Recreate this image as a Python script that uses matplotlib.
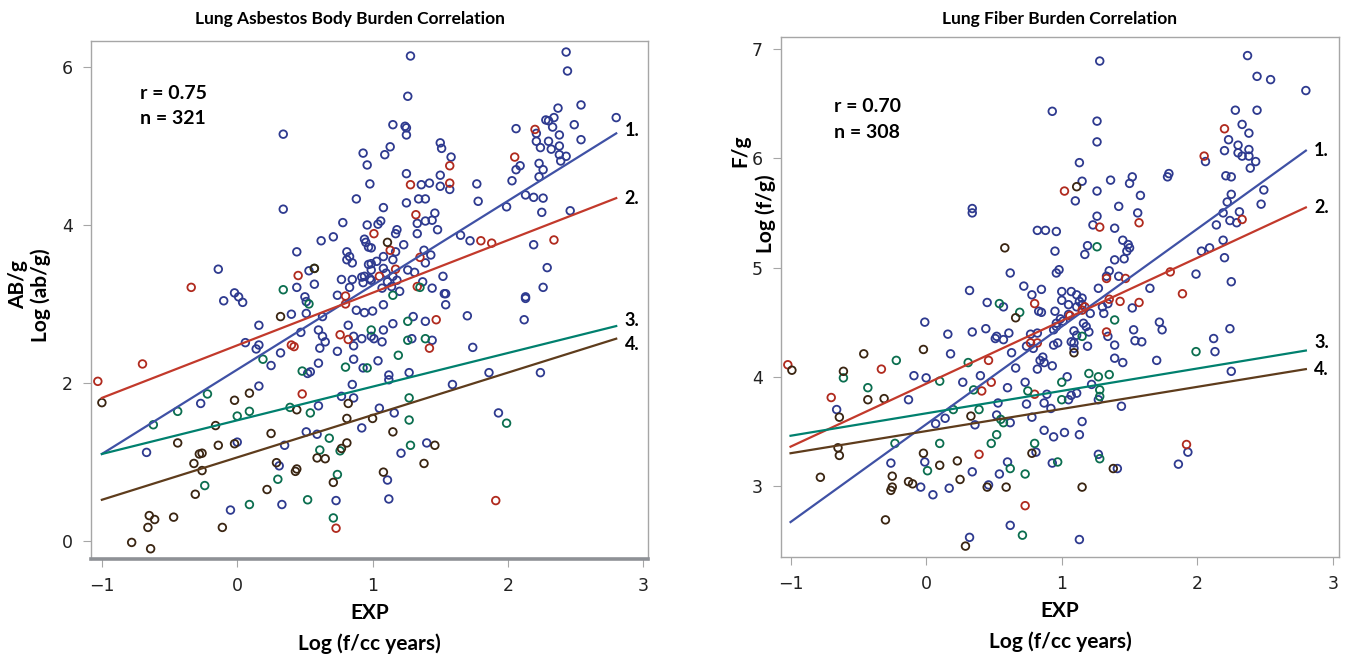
import numpy as np
import matplotlib
matplotlib.use('Agg')
import matplotlib.pyplot as plt
from matplotlib import font_manager

# ── Data ─────────────────────────────────────────────────────────────────────
# Left panel: lung asbestos bodies, x = log EXP, y = log(ab/g)
ab_blue = [(0.34,5.15),(0.34,4.2),(-0.14,3.44),(0.93,4.91),(0.96,4.76),(0.98,4.52),(0.88,4.33),(0.78,4.03),
    (0.71,3.85),(0.62,3.80),(0.96,4.0),(0.94,3.82),(0.95,3.78),(0.99,3.71),(0.97,3.72),(0.44,3.66),(0.53,3.42),
    (0.57,3.25),(0.44,3.21),(0.81,3.66),(0.83,3.60),(0.81,3.56),(0.85,3.52),(0.77,3.31),(0.85,3.31),(0.83,3.21),
    (0.92,3.34),(0.93,3.27),(0.99,3.30),(0.97,3.50),(0.99,3.43),(-0.10,3.04),(-0.02,3.14),(0.01,3.09),(0.04,3.02),
    (0.50,3.09),(0.74,3.11),(1.28,6.14),(1.26,5.63),(2.43,6.19),(2.44,5.95),(2.54,5.52),(2.80,5.36),(2.37,5.48),
    (2.28,5.33),(2.30,5.32),(2.34,5.36),(2.33,5.24),(2.49,5.27),(2.38,5.14),(2.54,5.08),(2.21,5.16),(2.21,5.06),
    (2.06,5.22),(2.24,4.98),(2.30,5.06),(2.32,4.96),(2.38,5.0),(2.38,4.89),(2.43,4.87),(2.39,4.81),(2.06,4.70),
    (2.09,4.75),(2.23,4.78),(2.26,4.70),(2.23,4.61),(2.03,4.56),(2.13,4.38),(2.19,4.35),(2.26,4.34),(2.25,4.16),
    (1.99,4.23),(2.46,4.18),(2.19,3.75),(2.29,3.46),(2.26,3.21),(2.13,3.09),(1.77,4.52),(1.78,4.30),(1.65,3.87),
    (1.72,3.80),(1.09,4.89),(1.13,4.99),(1.15,5.27),(1.24,5.25),(1.25,5.23),(1.25,5.14),(1.50,5.04),(1.51,4.97),
    (1.58,4.86),(1.50,4.63),(1.50,4.49),(1.57,4.45),(1.42,4.53),(1.36,4.51),(1.25,4.65),(1.25,4.28),(1.34,4.33),
    (1.39,4.33),(1.08,4.22),(1.06,4.05),(1.04,4.01),(1.33,4.02),(1.33,3.89),(1.46,4.15),(1.44,4.06),(1.48,3.94),
    (1.39,4.05),(1.18,3.94),(1.17,3.89),(1.23,3.75),(1.17,3.66),(1.15,3.56),(1.08,3.60),(1.03,3.54),(1.38,3.68),
    (1.43,3.62),(1.39,3.52),(1.26,3.43),(1.31,3.40),(0.99,3.51),(0.98,3.32),(0.94,3.35),(1.10,3.39),(1.08,3.45),
    (1.11,3.28),(1.15,3.35),(1.18,3.30),(1.07,3.20),(1.14,3.22),(1.20,3.16),(1.37,3.28),(1.44,3.20),(1.52,3.35),
    (1.53,3.13),(-0.67,1.12),(-0.27,1.74),(0.0,1.25),(-0.05,0.39),(0.33,0.46),(0.31,0.95),(0.35,1.21),(0.51,1.38),
    (0.59,1.35),(0.73,0.51),(0.92,1.43),(0.77,1.83),(0.86,1.81),(0.85,1.98),(0.60,1.71),(0.16,1.96),(0.25,2.22),
    (0.32,2.38),(0.06,2.51),(0.14,2.43),(0.16,2.48),(0.16,2.73),(0.40,2.87),(0.47,2.64),(0.51,2.88),(0.51,3.03),
    (0.63,2.84),(0.60,2.67),(0.63,2.59),(0.61,2.44),(0.65,2.52),(0.74,2.40),(0.86,2.59),(0.92,2.56),(0.86,2.47),
    (0.86,2.30),(0.82,2.73),(0.88,2.92),(0.94,2.89),(1.0,2.91),(0.93,2.19),(0.52,2.12),(0.54,2.14),(0.60,2.25),
    (0.99,2.59),(2.13,3.07),(2.12,2.80),(1.70,2.85),(1.74,2.45),(1.86,2.13),(1.59,1.98),(2.24,2.13),(1.39,2.78),
    (1.44,2.54),(1.54,2.99),(1.54,3.13),(1.30,2.84),(1.29,2.56),(1.15,2.75),(1.08,2.67),(1.07,2.52),(1.01,2.56),
    (1.08,2.99),(1.04,2.28),(1.12,2.10),(1.12,2.04),(1.27,2.13),(1.05,1.68),(1.16,1.62),(1.93,1.62),(1.40,1.24),
    (1.21,1.11),(1.11,0.77),(1.12,0.53)]
ab_red = [(-0.34,3.21),(1.01,3.89),(0.45,3.36),(2.20,5.21),(2.05,4.86),(2.34,3.81),(1.80,3.80),(1.88,3.77),
    (1.57,4.75),(1.57,4.53),(1.28,4.51),(1.32,4.13),(1.13,3.68),(1.35,3.59),(1.17,3.44),(1.05,3.35),(1.33,3.22),
    (-1.03,2.02),(-0.70,2.24),(0.40,2.48),(0.42,2.46),(0.48,1.86),(0.76,2.61),(0.82,2.55),(0.73,0.16),(0.80,3.0),
    (0.80,3.10),(1.47,2.80),(1.42,2.44),(1.91,0.51)]
ab_green = [(0.57,3.45),(0.34,3.18),(1.15,3.11),(1.35,3.21),(-0.62,1.47),(-0.44,1.64),(-0.22,1.86),(0.0,1.58),
    (0.09,1.64),(-0.24,0.70),(0.09,0.46),(0.30,0.78),(0.52,0.52),(0.68,1.30),(0.61,1.15),(0.76,1.14),(0.74,0.84),
    (0.71,0.29),(0.54,1.62),(0.39,1.69),(0.19,2.30),(0.53,3.0),(0.80,2.20),(0.99,2.67),(0.96,2.19),(0.48,2.15),
    (1.19,2.35),(1.27,1.81),(1.27,1.53),(1.99,1.49),(1.28,1.21),(1.39,2.56),(1.26,2.78),(1.26,2.54)]
ab_brown = [(0.57,3.45),(1.11,3.78),(-1.0,1.75),(-0.44,1.24),(-0.02,1.78),(0.09,1.87),(-0.16,1.46),(-0.14,1.21),
    (-0.02,1.23),(-0.26,1.11),(-0.28,1.10),(-0.32,0.98),(-0.26,0.89),(-0.31,0.59),(-0.65,0.32),(-0.61,0.27),
    (-0.66,0.17),(-0.47,0.30),(-0.78,-0.02),(-0.64,-0.10),(-0.11,0.17),(0.22,0.65),(0.29,0.99),(0.43,0.88),
    (0.44,0.91),(0.25,1.36),(0.59,1.05),(0.65,1.04),(0.77,1.17),(0.81,1.24),(0.71,0.74),(0.81,1.55),(0.82,1.74),
    (1.0,1.55),(0.44,1.66),(0.32,2.84),(1.46,1.21),(1.38,0.98),(1.08,0.87),(1.15,1.38)]

# Right panel: lung fibers, x = log EXP, y = log(f/g)
fb_blue = [(0.93,6.43),(0.34,5.54),(0.34,5.50),(0.82,5.34),(0.88,5.34),(0.96,5.33),(0.95,5.15),(0.62,4.95),
    (0.96,4.95),(0.98,4.98),(0.32,4.79),(0.72,4.83),(0.78,4.75),(0.85,4.80),(1.28,6.89),(2.37,6.94),(2.44,6.75),
    (2.54,6.72),(2.80,6.62),(1.26,6.34),(1.26,6.15),(2.28,6.44),(2.44,6.44),(2.33,6.31),(2.38,6.23),(2.23,6.17),
    (2.20,6.07),(2.30,6.12),(2.30,6.05),(2.33,6.02),(2.38,6.08),(2.38,6.02),(2.43,5.97),(2.39,5.91),(2.06,5.97),
    (2.21,5.84),(2.25,5.83),(2.25,5.67),(2.22,5.60),(2.49,5.71),(2.47,5.58),(2.19,5.50),(2.24,5.43),(2.29,5.41),
    (2.31,5.51),(2.14,5.39),(2.19,5.25),(2.20,5.09),(2.25,4.87),(2.03,5.15),(2.09,5.18),(1.99,4.94),(1.65,4.81),
    (1.78,5.83),(1.79,5.86),(1.58,5.66),(1.56,5.50),(1.50,5.77),(1.52,5.83),(1.42,5.56),(1.36,5.80),(1.26,5.70),
    (1.13,5.96),(1.15,5.79),(1.10,5.61),(1.26,5.47),(1.23,5.39),(1.39,5.36),(1.19,5.20),(1.17,5.12),(1.45,5.25),
    (1.49,5.21),(1.50,5.18),(1.48,5.15),(1.46,5.08),(1.39,5.07),(1.42,4.92),(1.35,4.97),(1.33,4.92),(1.27,4.81),
    (1.0,4.78),(1.07,4.78),(1.15,4.72),(1.11,4.75),(0.83,4.60),(0.85,4.59),(0.57,4.64),(0.45,4.68),(1.0,4.70),
    (1.05,4.66),(1.13,4.69),(1.15,4.66),(1.11,4.64),(1.21,4.58),(1.31,4.58),(1.30,4.64),(1.34,4.67),(1.52,4.63),
    (0.95,4.60),(1.01,4.51),(1.05,4.57),(0.96,4.49),(0.99,4.53),(1.09,4.42),(1.11,4.38),(1.16,4.49),(1.20,4.41),
    (1.18,4.46),(1.34,4.37),(1.39,4.29),(1.39,4.17),(1.45,4.13),(1.53,4.43),(1.54,4.33),(1.59,4.32),(1.70,4.15),
    (1.72,4.50),(1.74,4.43),(1.09,4.26),(1.09,4.31),(1.19,4.28),(0.84,4.15),(0.86,4.18),(0.87,4.13),(0.82,4.07),
    (0.93,4.10),(0.77,4.39),(0.82,4.40),(0.79,4.26),(0.74,4.28),(0.94,4.43),(0.96,4.46),(0.97,4.31),(0.94,4.29),
    (0.61,4.40),(0.57,4.34),(0.52,4.37),(0.63,4.22),(0.66,4.08),(0.60,3.90),(0.73,3.95),(0.74,3.75),(0.44,4.44),
    (0.51,4.35),(0.34,4.41),(0.16,4.39),(0.18,4.21),(-0.01,4.50),(0.40,4.01),(0.27,3.95),(0.0,3.99),(0.89,3.84),
    (0.87,3.76),(0.92,3.71),(0.53,3.76),(0.14,3.62),(0.07,3.57),(0.36,3.56),(0.52,3.65),(0.78,3.63),(0.87,3.51),
    (0.94,3.45),(1.02,3.49),(1.13,3.47),(1.15,3.59),(1.04,4.0),(1.07,3.83),(1.11,3.85),(1.05,3.79),(1.22,3.93),
    (1.44,3.73),(-0.09,4.01),(-0.13,3.79),(-0.66,3.70),(0.62,3.58),(0.81,3.31),(0.93,3.21),(0.60,3.22),(0.54,3.11),
    (0.46,3.01),(0.34,3.13),(-0.01,3.22),(-0.26,3.21),(-0.04,2.99),(0.05,2.92),(0.17,2.98),(0.62,2.64),(0.32,2.53),
    (1.07,4.32),(2.12,4.35),(2.13,4.23),(2.24,4.44),(2.25,4.05),(1.27,3.79),(1.27,3.29),(1.41,3.16),(1.13,2.51),
    (1.86,3.20),(1.93,3.31)]
fb_red = [(1.02,5.70),(2.20,6.27),(2.05,6.02),(2.33,5.44),(1.57,5.41),(1.28,5.37),(1.33,4.90),(1.47,4.90),
    (1.89,4.76),(1.80,4.96),(0.80,4.67),(1.17,4.64),(1.15,4.61),(1.35,4.71),(1.43,4.69),(1.57,4.68),(1.06,4.56),
    (1.33,4.41),(0.77,4.31),(0.82,4.31),(0.46,4.15),(0.48,3.95),(0.41,3.87),(0.80,3.84),(-1.02,4.11),(-0.33,4.07),
    (-0.70,3.81),(0.39,3.29),(0.73,2.82),(1.92,3.38)]
fb_green = [(1.26,5.19),(0.54,4.67),(0.69,4.59),(1.15,4.37),(1.39,4.52),(0.31,4.13),(0.10,3.96),(0.35,3.88),
    (0.75,3.87),(0.39,3.70),(0.20,3.70),(0.55,3.61),(0.57,3.58),(0.52,3.47),(0.48,3.39),(0.80,3.39),(0.10,3.39),
    (1.0,3.95),(1.0,3.79),(1.20,4.03),(1.27,4.0),(1.35,4.02),(1.28,3.88),(1.28,3.82),(-0.22,4.15),(-0.61,3.99),
    (-0.43,3.90),(-0.23,3.39),(0.97,3.22),(0.62,3.16),(0.73,3.11),(0.01,3.14),(0.71,2.55),(1.99,4.23),(1.28,3.25)]
fb_brown = [(0.58,5.18),(1.11,5.74),(0.66,4.54),(-0.02,4.25),(0.33,3.64),(1.09,4.22),(-0.99,4.06),(-0.46,4.21),
    (-0.61,4.05),(-0.43,3.79),(-0.31,3.80),(-0.64,3.63),(0.78,3.30),(0.45,2.99),(0.59,2.99),(0.23,3.23),(0.25,3.06),
    (0.10,3.19),(-0.02,3.30),(-0.25,3.09),(-0.25,2.99),(-0.26,2.96),(-0.13,3.04),(-0.10,3.02),(-0.65,3.35),
    (-0.64,3.28),(-0.78,3.08),(-0.30,2.69),(0.29,2.45),(1.38,3.16),(1.15,2.99)]

# regression lines 1..4: value at x = -1 and at x = 2.8
fit_x = [-1.0, 2.8]
ab_fit = [(1.10, 5.16), (1.81, 4.34), (1.10, 2.72), (0.52, 2.56)]
fb_fit = [(2.67, 6.07), (3.36, 5.55), (3.46, 4.24), (3.30, 4.07)]
line_labels = ['1.', '2.', '3.', '4.']

# ── Style ────────────────────────────────────────────────────────────────────
names = {f.name for f in font_manager.fontManager.ttflist}
BOLD_FONT = 'Lato' if 'Lato' in names else 'DejaVu Sans'
TICK_FONT = 'Liberation Sans Narrow' if 'Liberation Sans Narrow' in names else 'DejaVu Sans'

PT_COLORS   = ['#2E3A8F', '#B02A1E', '#0B6E4F', '#3A2512']
LINE_COLORS = ['#3F51A5', '#C2392B', '#00806E', '#5E3C1C']
FRAME = '#A6A6A6'

fig = plt.figure(figsize=(13.45, 6.61), dpi=100)

panels = [
    dict(pos=[0.0677, 0.1543, 0.4141, 0.7837], xlim=(-1.08, 3.035), ylim=(-0.23, 6.33),
         yticks=[0, 2, 4, 6], pts=[ab_blue, ab_red, ab_green, ab_brown], fit=ab_fit,
         title='Lung Asbestos Body Burden Correlation', title_x=0.260,
         # (text, x, y) in figure fraction for the two y-label lines
         ylab=[('AB/g', 0.0135, 0.570), ('Log (ab/g)', 0.0300, 0.553)],
         label_nudge=[2, 0, 4, -4],
         stats='r = 0.75\nn = 321', stats_xy=(0.088, 0.915), thick_bottom=True),
    dict(pos=[0.5807, 0.1573, 0.4149, 0.7867], xlim=(-1.07, 3.045), ylim=(2.35, 7.11),
         yticks=[3, 4, 5, 6, 7], pts=[fb_blue, fb_red, fb_green, fb_brown], fit=fb_fit,
         title='Lung Fiber Burden Correlation', title_x=0.788,
         ylab=[('F/g', 0.5505, 0.772), ('Log (f/g)', 0.5690, 0.677)],
         label_nudge=[0, 0, 6, 0],
         stats='r = 0.70\nn = 308', stats_xy=(0.095, 0.882), thick_bottom=False),
]

for p in panels:
    ax = fig.add_axes(p['pos'])
    # scatter groups (blue drawn first, as in the original)
    for pts, col in zip(p['pts'], PT_COLORS):
        arr = np.array(pts)
        ax.scatter(arr[:, 0], arr[:, 1], s=30, facecolors='none', edgecolors=col,
                   linewidths=1.3, zorder=3)
    # regression lines with their numbers
    for (y0, y1), col, lab, dy in zip(p['fit'], LINE_COLORS, line_labels, p['label_nudge']):
        ax.plot(fit_x, [y0, y1], color=col, lw=1.6, zorder=4)
        ax.annotate(lab, xy=(fit_x[1], y1), xytext=(6, dy), textcoords='offset points',
                    fontsize=13, fontweight='bold', family=BOLD_FONT,
                    va='center', ha='left', zorder=5)

    ax.set_xlim(*p['xlim'])
    ax.set_ylim(*p['ylim'])
    ax.set_xticks([-1, 0, 1, 2, 3])
    ax.set_yticks(p['yticks'])
    ax.tick_params(direction='out', length=6, width=0.8, color=FRAME, pad=7,
                   labelsize=12.5, labelcolor='#222222')
    for lab in ax.get_xticklabels() + ax.get_yticklabels():
        lab.set_family(TICK_FONT)
    for sp in ax.spines.values():
        sp.set_color(FRAME)
        sp.set_linewidth(1.0)
    if p['thick_bottom']:
        ax.spines['bottom'].set_linewidth(2.6)
        ax.spines['bottom'].set_color('#8E9196')

    fig.text(p['title_x'], 0.972, p['title'], fontsize=12.5, fontweight='bold',
             family=BOLD_FONT, ha='center', va='center')
    for txt, tx, ty in p['ylab']:
        fig.text(tx, ty, txt, rotation=90, fontsize=15, fontweight='bold',
                 family=BOLD_FONT, ha='center', va='center')
    ax.set_xlabel('EXP\nLog (f/cc years)', fontsize=15, fontweight='bold',
                  family=BOLD_FONT, linespacing=1.6)
    ax.xaxis.set_label_coords(0.5, -0.085)
    ax.xaxis.label.set_va('top')
    ax.text(p['stats_xy'][0], p['stats_xy'][1], p['stats'], transform=ax.transAxes,
            fontsize=14, fontweight='bold', family=BOLD_FONT, va='top', ha='left',
            linespacing=1.6)

fig.savefig('out.png', dpi=100)
